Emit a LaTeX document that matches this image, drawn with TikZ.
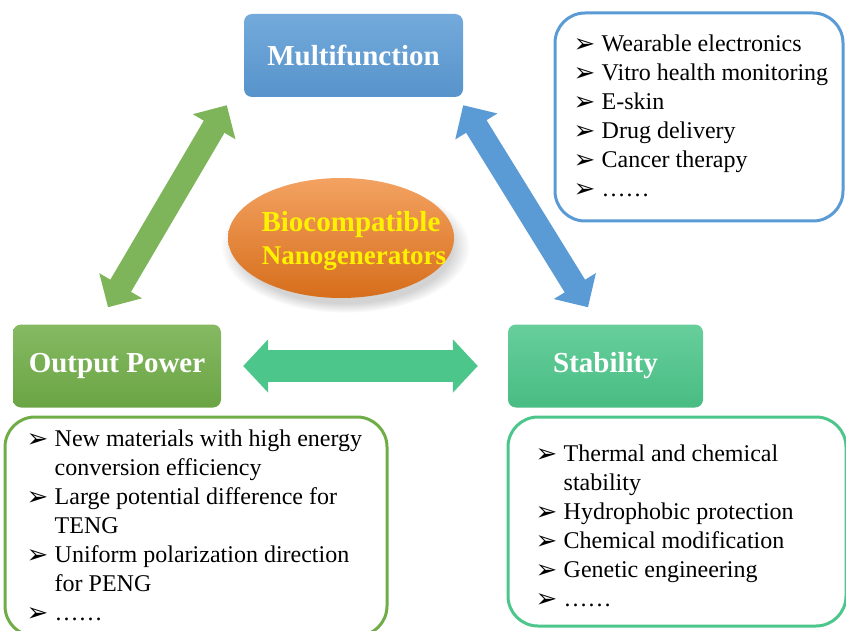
\documentclass[tikz,border=0pt]{standalone}
\usepackage{fontspec}
\setmainfont{Liberation Serif}
\newfontfamily\symfont{DejaVu Sans}
\usetikzlibrary{arrows.meta,shapes.geometric,shadows}
\definecolor{mfblue}{HTML}{5B9BD5}
\definecolor{opgreen}{HTML}{70AD47}
\definecolor{stgreen}{HTML}{4CC68A}
\definecolor{bnorange}{HTML}{EE7A1E}
\newcommand{\bul}{\makebox[28pt][l]{\symfont\fontsize{26}{26}\selectfont\raisebox{-1pt}{➢}}}
\tikzset{
  titlebox/.style={rounded corners=8pt, minimum height=83pt, text=white, font=\fontsize{29}{33}\selectfont\bfseries},
  listbox/.style={rounded corners=30pt, line width=3pt, fill=white},
  listtext/.style={inner sep=0pt, anchor=north west, font=\fontsize{24}{29}\selectfont},
  bntext/.style={inner sep=0pt, anchor=base, text=yellow},
  dblarrow/.style={line width=24pt, {Triangle[length=25pt,width=48pt]}-{Triangle[length=25pt,width=48pt]}}
}
\begin{document}
\begin{tikzpicture}[x=1pt,y=-1pt]
\useasboundingbox (0,0) rectangle (846,631);
\node[titlebox, minimum width=219pt, top color=mfblue!85!white, bottom color=mfblue!95!black] (mf) at (353.5,55.5) {Multifunction};
\node[titlebox, minimum width=208pt, top color=opgreen!85!white, bottom color=opgreen!95!black] (op) at (117,366) {Output Power};
\node[titlebox, minimum width=195pt, top color=stgreen!85!white, bottom color=stgreen!95!black] (st) at (605.5,366) {Stability};
\node[ellipse, minimum width=226pt, minimum height=120pt, top color=bnorange!70!white, bottom color=bnorange!90!black,
  circular drop shadow={shadow xshift=4pt, shadow yshift=-8pt, opacity=.35}] (bn) at (341,238) {};
\node[bntext, font=\fontsize{29}{33}\selectfont\bfseries] (bn1) at ([shift={(10,-6)}]bn.center) {Biocompatible};
\node[bntext, font=\fontsize{27}{33}\selectfont\bfseries] (bn2) at ([shift={(13,27)}]bn.center) {Nanogenerators};

\coordinate (g1) at ([shift={(-9,-17)}]op.north);
\coordinate (g2) at ([shift={(-17,8)}]mf.south west);
\coordinate (b1) at ([shift={(0,8)}]mf.south east);
\coordinate (b2) at ([shift={(-17.5,-17)}]st.north);
\coordinate (h1) at ([shift={(22,0)}]op.east);
\coordinate (h2) at ([shift={(-30,0)}]st.west);
\draw[dblarrow, opgreen!90!white] (g1) -- (g2);
\draw[dblarrow, mfblue] (b1) -- (b2);
\draw[stgreen, line width=32pt, {Triangle[length=25pt,width=52pt]}-{Triangle[length=25pt,width=52pt]}] (h1) -- (h2);

\node[listbox, draw=mfblue, minimum width=288pt, minimum height=208pt] (mfl) at (699,117) {};
\node[listtext] (mft) at ([shift={(20,20)}]mfl.north west) {\begin{tabular}{@{}l@{}l@{}}
\bul & Wearable electronics\\
\bul & Vitro health monitoring\\
\bul & E-skin\\
\bul & Drug delivery\\
\bul & Cancer therapy\\
\bul & \ldots\ldots
\end{tabular}};
\node[listbox, draw=opgreen, minimum width=382pt, minimum height=219pt] (opl) at (196,526.5) {};
\node[listtext] (opt) at ([shift={(23,10)}]opl.north west) {\begin{tabular}{@{}l@{}l@{}}
\bul & New materials with high energy\\
 & conversion efficiency\\
\bul & Large potential difference for\\
 & TENG\\
\bul & Uniform polarization direction\\
 & for PENG\\
\bul & \ldots\ldots
\end{tabular}};
\node[listbox, draw=stgreen, minimum width=338pt, minimum height=209pt] (stl) at (677,521.5) {};
\node[listtext] (stt) at ([shift={(29,25)}]stl.north west) {\begin{tabular}{@{}l@{}l@{}}
\bul & Thermal and chemical\\
 & stability\\
\bul & Hydrophobic protection\\
\bul & Chemical modification\\
\bul & Genetic engineering\\
\bul & \ldots\ldots
\end{tabular}};
\end{tikzpicture}
\end{document}
